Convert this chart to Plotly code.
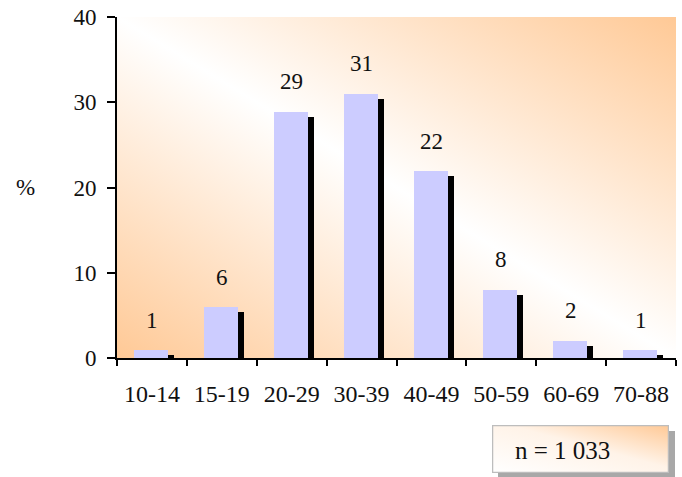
import base64
import plotly.graph_objects as go

# ---- data ----
categories = ["10-14", "15-19", "20-29", "30-39", "40-49", "50-59", "60-69", "70-88"]
percent = [0.9, 5.95, 28.9, 31.0, 21.9, 8.0, 2.0, 0.9]
labels = ["1", "6", "29", "31", "22", "8", "2", "1"]
y_ticks = [0, 10, 20, 30, 40]
n_text = "n = 1 033"

FONT = "Liberation Serif"
LAVENDER = "#CCCCFF"
PEACH = "#FFC996"

# styling constants
BAR_W = 0.487
BAR_OFF = -0.256
SHADOW_DX = 0.086
SHADOW_DROP = 0.59


def svg_uri(svg):
    return "data:image/svg+xml;base64," + base64.b64encode(svg.encode()).decode()


bg_svg = f"""<svg xmlns='http://www.w3.org/2000/svg' width='100' height='100' viewBox='0 0 100 100' preserveAspectRatio='none'>
<defs><linearGradient id='g' x1='0' y1='1' x2='1' y2='0'>
<stop offset='0' stop-color='{PEACH}'/><stop offset='0.5' stop-color='#FFFFFF'/><stop offset='1' stop-color='{PEACH}'/>
</linearGradient></defs><rect x='0' y='0' width='100' height='100' fill='url(#g)'/></svg>"""

box_svg = f"""<svg xmlns='http://www.w3.org/2000/svg' width='177' height='48' viewBox='0 0 177 48' preserveAspectRatio='none'>
<defs><linearGradient id='b' x1='0' y1='1' x2='1' y2='0'>
<stop offset='0' stop-color='#FFFFFF'/><stop offset='0.55' stop-color='#FFF3E8'/><stop offset='1' stop-color='{PEACH}'/>
</linearGradient></defs><rect x='0.5' y='0.5' width='176' height='47' fill='url(#b)' stroke='#BDBDBD' stroke-width='1.5'/></svg>"""

fig = go.Figure()
fig.add_trace(go.Bar(
    x=categories, y=[max(v - SHADOW_DROP, 0) for v in percent],
    width=BAR_W, offset=BAR_OFF + SHADOW_DX,
    marker=dict(color="black", line=dict(width=0)), hoverinfo="skip", showlegend=False,
))
fig.add_trace(go.Bar(
    x=categories, y=percent,
    width=BAR_W, offset=BAR_OFF,
    marker=dict(color=LAVENDER, line=dict(width=0)), showlegend=False,
))

for c, v, t in zip(categories, percent, labels):
    fig.add_annotation(x=c, y=v, text=t, showarrow=False, yshift=30, yanchor="middle",
                       font=dict(family=FONT, size=23, color="#111111"))

# plot area geometry in px (for paper conversions)
L, R, T, B = 117, 6, 17, 119
W = 682 - L - R
H = 477 - T - B

def px_x(px):
    return (px - L) / W

def px_y(py):
    return (477 - B - py) / H

fig.add_annotation(x=px_x(25), y=px_y(187), xref="paper", yref="paper", text="%",
                   showarrow=False, xanchor="center", yanchor="middle",
                   font=dict(family=FONT, size=23, color="#111111"))

# n box shadow + box + text
fig.add_shape(type="rect", xref="paper", yref="paper",
              x0=px_x(498), x1=px_x(675), y0=px_y(479), y1=px_y(431),
              fillcolor="#A8A8A8", line=dict(width=0), layer="below")
fig.add_layout_image(source=svg_uri(box_svg), xref="paper", yref="paper",
                     x=px_x(492), y=px_y(425), sizex=px_x(669) - px_x(492), sizey=px_y(425) - px_y(473),
                     xanchor="left", yanchor="top", sizing="stretch", layer="above")
fig.add_annotation(x=px_x(562), y=px_y(450), xref="paper", yref="paper", text=n_text,
                   showarrow=False, xanchor="center", yanchor="middle",
                   font=dict(family=FONT, size=25, color="#111111"))

fig.add_layout_image(source=svg_uri(bg_svg), xref="paper", yref="paper",
                     x=0, y=1, sizex=1, sizey=1, xanchor="left", yanchor="top",
                     sizing="stretch", layer="below")

fig.update_layout(
    width=682, height=477,
    margin=dict(l=L, r=R, t=T, b=B, pad=0),
    paper_bgcolor="white", plot_bgcolor="rgba(0,0,0,0)",
    barmode="overlay", bargap=0,
    font=dict(family=FONT, size=23, color="#111111"),
    xaxis=dict(type="category", showgrid=False, zeroline=False,
               showline=True, linecolor="black", linewidth=2,
               ticks="outside", tickson="boundaries", ticklen=6, tickwidth=2, tickcolor="black",
               tickfont=dict(family=FONT, size=24, color="#111111"), range=[-0.5, 7.5],
               ticklabelstandoff=13),
    yaxis=dict(range=[0, 40], tickvals=y_ticks, showgrid=False, zeroline=False,
               showline=True, linecolor="black", linewidth=2,
               ticks="outside", ticklen=8, tickwidth=2, tickcolor="black",
               tickfont=dict(family=FONT, size=23, color="#111111"),
               ticklabelstandoff=6),
)

fig.write_html("out.html", config={"displayModeBar": False})

with open("out.html", "r", encoding="utf-8") as f:
    html = f.read()
html = html.replace("<head>", "<head><style>html,body{margin:0;padding:0;overflow:hidden;}</style>", 1)
with open("out.html", "w", encoding="utf-8") as f:
    f.write(html)
